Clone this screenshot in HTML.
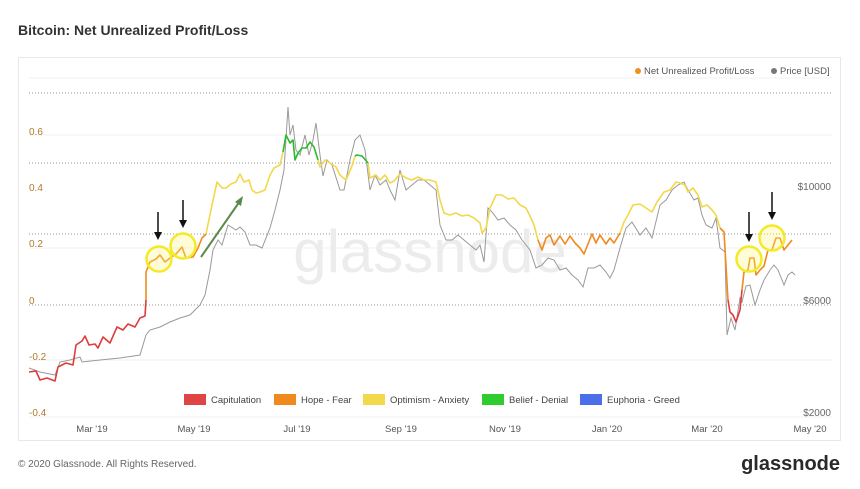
<!DOCTYPE html>
<html><head><meta charset="utf-8"><style>
body{margin:0;width:860px;height:484px;background:#fff;font-family:"Liberation Sans","DejaVu Sans",sans-serif;overflow:hidden}
</style></head><body>
<svg width="860" height="484" xmlns="http://www.w3.org/2000/svg" font-family="Liberation Sans, DejaVu Sans, sans-serif">
<text x="18" y="35" font-size="14" font-weight="bold" fill="#333">Bitcoin: Net Unrealized Profit/Loss</text>
<rect x="18.5" y="57.5" width="822" height="383" fill="#fff" stroke="#e8e8e8"/>
<g stroke="#f0f0f0"><line x1="29" x2="832" y1="78" y2="78"/><line x1="29" x2="832" y1="135" y2="135"/><line x1="29" x2="832" y1="248" y2="248"/><line x1="29" x2="832" y1="360" y2="360"/><line x1="29" x2="832" y1="417" y2="417"/></g>
<g stroke="#999" stroke-dasharray="1,2"><line x1="29" x2="832" y1="93" y2="93"/><line x1="29" x2="832" y1="163" y2="163"/><line x1="29" x2="832" y1="234" y2="234"/><line x1="29" x2="832" y1="305" y2="305"/></g>
<text x="430" y="272" font-size="60" fill="#ececec" text-anchor="middle">glassnode</text>
<g font-size="10" fill="#b07a2a"><text x="29" y="135">0.6</text><text x="29" y="191">0.4</text><text x="29" y="247">0.2</text><text x="29" y="304">0</text><text x="29" y="360">-0.2</text><text x="29" y="416">-0.4</text></g>
<g font-size="10" fill="#666" text-anchor="end"><text x="831" y="190">$10000</text><text x="831" y="304">$6000</text><text x="831" y="416">$2000</text></g>
<g font-size="9.5" fill="#555" text-anchor="middle"><text x="92" y="432">Mar '19</text><text x="194" y="432">May '19</text><text x="297" y="432">Jul '19</text><text x="401" y="432">Sep '19</text><text x="505" y="432">Nov '19</text><text x="607" y="432">Jan '20</text><text x="707" y="432">Mar '20</text><text x="810" y="432">May '20</text></g>
<circle cx="638" cy="71" r="3" fill="#f0901e"/><text x="644" y="74" font-size="9.5" fill="#555">Net Unrealized Profit/Loss</text>
<circle cx="774" cy="71" r="3" fill="#777"/><text x="780" y="74" font-size="9.5" fill="#555">Price [USD]</text>
<polyline fill="none" stroke="#999" stroke-width="1" points="29,368 40,372 55,375 60,362 70,360 80,357 82,362 100,360 120,358 140,355 146,335 150,330 160,327 170,322 180,318 190,315 200,305 205,295 210,270 213,250 218,240 222,245 228,225 236,230 240,227 245,232 250,245 256,245 262,248 270,228 275,210 280,190 284,170 288,107 290,135 293,125 296,150 300,155 305,135 309,155 313,140 316,123 320,155 323,176 327,160 332,165 340,190 344,190 350,160 355,140 360,135 365,150 370,190 375,175 380,185 386,180 390,190 395,200 400,170 406,190 412,185 418,180 424,180 430,185 436,190 440,225 446,240 452,240 458,235 464,240 470,245 476,250 480,245 484,262 488,208 492,212 498,220 504,218 510,225 516,230 522,240 530,250 536,268 542,265 548,258 554,260 560,270 566,268 572,275 578,280 583,287 588,268 594,268 600,265 606,272 610,278 614,270 620,248 626,228 632,222 640,235 646,228 652,238 660,205 666,200 672,190 678,185 684,182 688,190 694,200 698,198 702,215 706,225 712,228 716,218 720,248 725,252 727,335 731,318 735,330 740,298 742,302 746,286 750,285 755,305 760,290 764,280 770,270 774,265 778,270 782,280 784,285 788,275 792,272 795,275"/>
<g fill="none" stroke-width="1.6" stroke-linejoin="round">
<polyline stroke="#e03c3c" points="29,372 36,371 40,380 47,378 55,381 58,367 66,363 73,365 76,345 82,341 85,336 89,345 95,344 98,348 103,337 110,343 117,327 123,330 128,324 135,327 140,318 145,316 146,300"/>
<polyline stroke="#f08a1e" points="146,300 146,272 150,262 156,259 160,255 165,262 170,258 176,254 182,247 186,258 193,257 198,248 202,238 206,234"/>
<polyline stroke="#f2d84a" points="206,234 212,205 217,182 222,188 226,188 231,184 236,182 240,174 244,182 249,180 252,190 256,193 260,192 265,190 270,175 274,168 280,165 283,152"/>
<polyline stroke="#2cbb2c" points="283,152 286,135 290,143 293,140 295,160 298,153 302,148 306,148 310,142 314,147 318,160"/>
<polyline stroke="#f2d84a" points="318,160 320,167 325,160 330,163 336,167 340,175 346,180 352,166 355,156"/>
<polyline stroke="#2cbb2c" points="355,156 357,155 362,156 368,163"/>
<polyline stroke="#f2d84a" points="368,163 370,178 376,175 380,180 385,175 390,183 394,181 400,174 406,178 412,180 418,177 424,180 430,180 436,182 440,200 444,213 450,215 456,213 462,216 468,215 474,218 480,223 482,233 486,228 490,208 496,195 502,195 508,199 514,198 520,205 526,208 530,216 534,225 538,240"/>
<polyline stroke="#f08a1e" points="538,240 542,250 546,238 550,235 554,245 560,236 565,244 570,236 575,243 580,248 584,254 588,244 592,234 596,243 600,235 606,244 610,238 614,243 620,233"/>
<polyline stroke="#f2d84a" points="620,233 624,222 628,215 633,205 640,204 646,208 652,212 657,202 664,192 670,190 676,182 680,183 685,185 688,192 693,188 698,195 702,207 707,205 712,210 716,215 720,228"/>
<polyline stroke="#f08a1e" points="720,228 724,232 728,300"/>
<polyline stroke="#e03c3c" points="728,300 730,312 733,315 736,322 740,310 742,290"/>
<polyline stroke="#f08a1e" points="742,290 744,272 748,270 750,258 754,258 756,275 760,270 764,266 768,250 772,250 776,238 780,238 784,250 788,245 792,240"/>
</g>
<g fill="rgba(255,245,120,0.3)" stroke="#f3ea2a" stroke-width="2.5"><circle cx="159" cy="259" r="12.5"/><circle cx="183" cy="246" r="12.5"/><circle cx="749" cy="259" r="12.5"/><circle cx="772" cy="238" r="12.5"/></g>
<g stroke="#111" stroke-width="1.5"><line x1="158" y1="212" x2="158" y2="234"/><line x1="183" y1="200" x2="183" y2="222"/><line x1="749" y1="212" x2="749" y2="236"/><line x1="772" y1="192" x2="772" y2="214"/></g>
<g fill="#111"><polygon points="154,232 162,232 158,240"/><polygon points="179,220 187,220 183,228"/><polygon points="745,234 753,234 749,242"/><polygon points="768,212 776,212 772,220"/></g>
<line x1="201" y1="257" x2="240" y2="201" stroke="#5a8a4a" stroke-width="2"/><polygon points="243,196 235,202 241,206" fill="#5a8a4a"/>
<g font-size="9.5" fill="#444">
<rect x="184" y="394" width="22" height="11" fill="#e04545"/><text x="211" y="403">Capitulation</text>
<rect x="274" y="394" width="22" height="11" fill="#f08a1e"/><text x="301" y="403">Hope - Fear</text>
<rect x="363" y="394" width="22" height="11" fill="#f2d84a"/><text x="390" y="403">Optimism - Anxiety</text>
<rect x="482" y="394" width="22" height="11" fill="#2ecc2e"/><text x="509" y="403">Belief - Denial</text>
<rect x="580" y="394" width="22" height="11" fill="#4a6fe8"/><text x="607" y="403">Euphoria - Greed</text>
</g>
<text x="18" y="467" font-size="10" fill="#666">© 2020 Glassnode. All Rights Reserved.</text>
<text x="840" y="470" font-size="20" font-weight="bold" fill="#2a2a2a" text-anchor="end">glassnode</text>
</svg>
</body></html>
